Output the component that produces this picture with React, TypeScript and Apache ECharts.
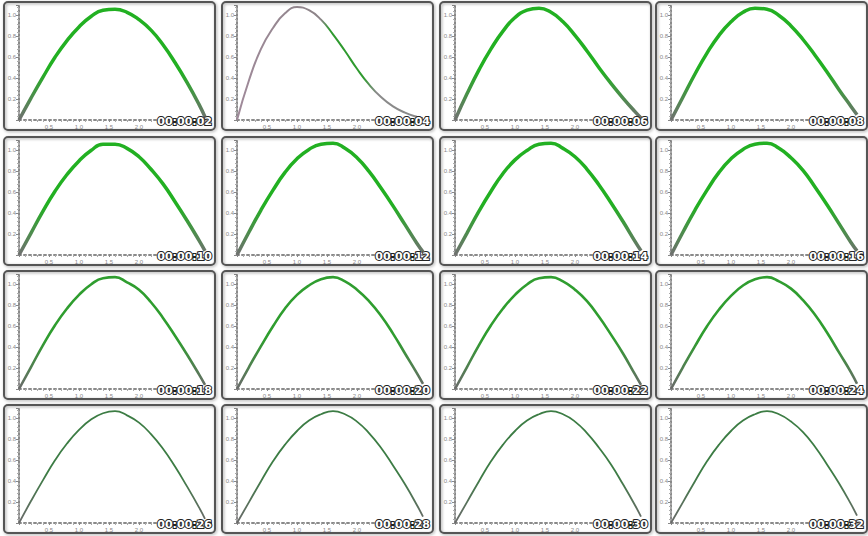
import React, { useEffect, useRef } from "react";
import * as echarts from "echarts";

// Shared x positions (radians-like scale of the reference axes)
const xValues = [0, 0.2, 0.4, 0.6, 0.8, 1.0, 1.2, 1.4, 1.6, 1.8, 2.0, 2.2, 2.4, 2.6, 2.8, 3.0, 3.1];

// Timestamps of each frame
const frameLabels = [
  "00:00:02", "00:00:04", "00:00:06", "00:00:08",
  "00:00:10", "00:00:12", "00:00:14", "00:00:16",
  "00:00:18", "00:00:20", "00:00:22", "00:00:24",
  "00:00:26", "00:00:28", "00:00:30", "00:00:32",
];

// Curve values read from each frame
const f02 = [0, 0.21, 0.41, 0.6, 0.76, 0.89, 0.99, 1.05, 1.06, 1.03, 0.96, 0.86, 0.72, 0.55, 0.36, 0.15, 0.03];
const f04 = [0, 0.38, 0.68, 0.88, 1.02, 1.08, 1.05, 0.96, 0.82, 0.66, 0.49, 0.34, 0.22, 0.13, 0.07, 0.03, 0.02];
const f06 = [0, 0.25, 0.48, 0.68, 0.85, 0.98, 1.05, 1.07, 1.03, 0.94, 0.81, 0.66, 0.5, 0.35, 0.21, 0.08, 0.02];
const f08 = [0, 0.22, 0.44, 0.64, 0.81, 0.94, 1.03, 1.07, 1.06, 1.0, 0.9, 0.77, 0.62, 0.46, 0.29, 0.13, 0.05];
const f10 = [0, 0.21, 0.42, 0.61, 0.77, 0.9, 1.0, 1.06, 1.06, 1.02, 0.94, 0.82, 0.68, 0.51, 0.33, 0.14, 0.04];
const f12 = [0, 0.22, 0.43, 0.62, 0.79, 0.92, 1.01, 1.06, 1.07, 1.02, 0.93, 0.8, 0.64, 0.47, 0.29, 0.11, 0.03];
const f14 = [0, 0.21, 0.42, 0.61, 0.78, 0.91, 1.0, 1.06, 1.07, 1.02, 0.94, 0.82, 0.67, 0.5, 0.32, 0.13, 0.04];
const f16 = [0, 0.22, 0.43, 0.62, 0.79, 0.92, 1.01, 1.06, 1.07, 1.02, 0.93, 0.81, 0.65, 0.48, 0.3, 0.12, 0.04];
const f18 = [0, 0.21, 0.42, 0.61, 0.77, 0.9, 1.0, 1.06, 1.07, 1.02, 0.95, 0.83, 0.68, 0.51, 0.33, 0.14, 0.04];
const f20 = [0, 0.21, 0.41, 0.6, 0.77, 0.9, 0.99, 1.05, 1.07, 1.03, 0.95, 0.84, 0.7, 0.53, 0.34, 0.15, 0.05];
const f22 = [0, 0.21, 0.42, 0.61, 0.77, 0.9, 1.0, 1.06, 1.07, 1.03, 0.95, 0.84, 0.69, 0.52, 0.34, 0.14, 0.04];
const f24 = [0, 0.21, 0.41, 0.6, 0.76, 0.89, 0.99, 1.05, 1.07, 1.03, 0.96, 0.85, 0.71, 0.54, 0.35, 0.16, 0.05];
const f26 = [0, 0.21, 0.41, 0.6, 0.76, 0.89, 0.99, 1.05, 1.07, 1.03, 0.96, 0.85, 0.71, 0.54, 0.35, 0.15, 0.04];
const f28 = [0, 0.2, 0.4, 0.59, 0.75, 0.88, 0.98, 1.04, 1.07, 1.04, 0.97, 0.86, 0.72, 0.55, 0.37, 0.17, 0.06];
const f30 = [0, 0.2, 0.4, 0.59, 0.75, 0.88, 0.98, 1.04, 1.07, 1.04, 0.97, 0.86, 0.72, 0.56, 0.37, 0.17, 0.06];
const f32 = [0, 0.2, 0.4, 0.59, 0.75, 0.88, 0.98, 1.04, 1.07, 1.04, 0.97, 0.87, 0.73, 0.56, 0.38, 0.18, 0.07];

const frames = [f02, f04, f06, f08, f10, f12, f14, f16, f18, f20, f22, f24, f26, f28, f30, f32];

const colLefts = [4, 222, 440, 656];
const rowTops = [2, 137, 271, 405];
const panelW = 211;
const panelH = 128;

function lineColor(i: number) {
  if (i === 1) {
    return new echarts.graphic.LinearGradient(0, 0, 1, 0, [
      { offset: 0, color: "#a08a9a" },
      { offset: 0.45, color: "#8c8488" },
      { offset: 0.5, color: "#2f9a2f" },
      { offset: 0.68, color: "#2f9a2f" },
      { offset: 0.75, color: "#8a8a8a" },
      { offset: 1, color: "#8a8a8a" },
    ]);
  }
  const row = Math.floor(i / 4);
  const top = row < 2 ? "#22b022" : row === 2 ? "#2f9d2f" : "#3c7c44";
  const bottom = row < 2 ? "#707070" : "#6a6a6a";
  return new echarts.graphic.LinearGradient(0, 0, 0, 1, [
    { offset: 0, color: top },
    { offset: 0.55, color: top },
    { offset: 1, color: bottom },
  ]);
}

function lineWidth(i: number) {
  if (i === 1) return 2;
  const row = Math.floor(i / 4);
  return row < 2 ? 3.5 : row === 2 ? 2.6 : 1.8;
}

export default function App() {
  const ref = useRef<HTMLDivElement>(null);
  useEffect(() => {
    if (!ref.current) return;
    const chart = echarts.init(ref.current, null, { renderer: "svg" });
    const grids: any[] = [];
    const xAxes: any[] = [];
    const yAxes: any[] = [];
    const series: any[] = [];
    const graphics: any[] = [];
    frames.forEach((vals, i) => {
      const pl = colLefts[i % 4];
      const pt = rowTops[Math.floor(i / 4)];
      grids.push({ left: pl + 15, top: pt + 3, width: 192, height: 115 });
      xAxes.push({
        type: "value",
        gridIndex: i,
        min: 0,
        max: 3.2,
        interval: 0.5,
        axisLine: { lineStyle: { color: "#8a8a8a", width: 2, type: [2, 3] } },
        axisTick: { show: true, length: 2, lineStyle: { color: "#888" } },
        minorTick: { show: true, splitNumber: 5, length: 2, lineStyle: { color: "#aaa" } },
        splitLine: { show: false },
        axisLabel: {
          fontSize: 6,
          color: "#888",
          margin: 4,
          formatter: (v: number) => (v > 0 && v <= 2.0 ? v.toFixed(1) : ""),
        },
      });
      yAxes.push({
        type: "value",
        gridIndex: i,
        min: 0,
        max: 1.1,
        interval: 0.2,
        axisLine: { show: true, lineStyle: { color: "#8a8a8a", width: 2, type: [2, 2] } },
        axisTick: { show: true, length: 3, lineStyle: { color: "#888" } },
        minorTick: { show: true, splitNumber: 5, length: 2, lineStyle: { color: "#aaa" } },
        splitLine: { show: false },
        axisLabel: {
          fontSize: 6,
          color: "#888",
          margin: 3,
          showMaxLabel: false,
          formatter: (v: number) => (v > 0 && v < 1.05 ? v.toFixed(1) : ""),
        },
      });
      series.push({
        type: "line",
        xAxisIndex: i,
        yAxisIndex: i,
        smooth: 0.5,
        symbol: "none",
        data: xValues.map((x, k) => [x, vals[k]]),
        lineStyle: { color: lineColor(i), width: lineWidth(i) },
        z: 5,
      });
      graphics.push({
        type: "rect",
        shape: { x: pl, y: pt, width: panelW, height: panelH, r: 4 },
        style: {
          fill: "transparent",
          stroke: "#555",
          lineWidth: 2,
          shadowBlur: 3,
          shadowColor: "rgba(0,0,0,0.35)",
          shadowOffsetX: 1,
          shadowOffsetY: 1,
        },
        z: 1,
        silent: true,
      });
      graphics.push({
        type: "text",
        x: pl + 208,
        y: pt + 119,
        z: 100,
        style: {
          text: frameLabels[i],
          font: 'bold 11px "DejaVu Sans"',
          fill: "#ffffff",
          stroke: "#222",
          lineWidth: 2,
          align: "right",
          verticalAlign: "middle",
        },
        silent: true,
      });
    });
    chart.setOption({
      animation: false,
      backgroundColor: "#ffffff",
      grid: grids,
      xAxis: xAxes,
      yAxis: yAxes,
      series,
      graphic: { elements: graphics },
    });
    return () => chart.dispose();
  }, []);
  return (
    <div
      ref={ref}
      style={{ position: "fixed", left: 0, top: 0, width: 868, height: 536 }}
    />
  );
}
